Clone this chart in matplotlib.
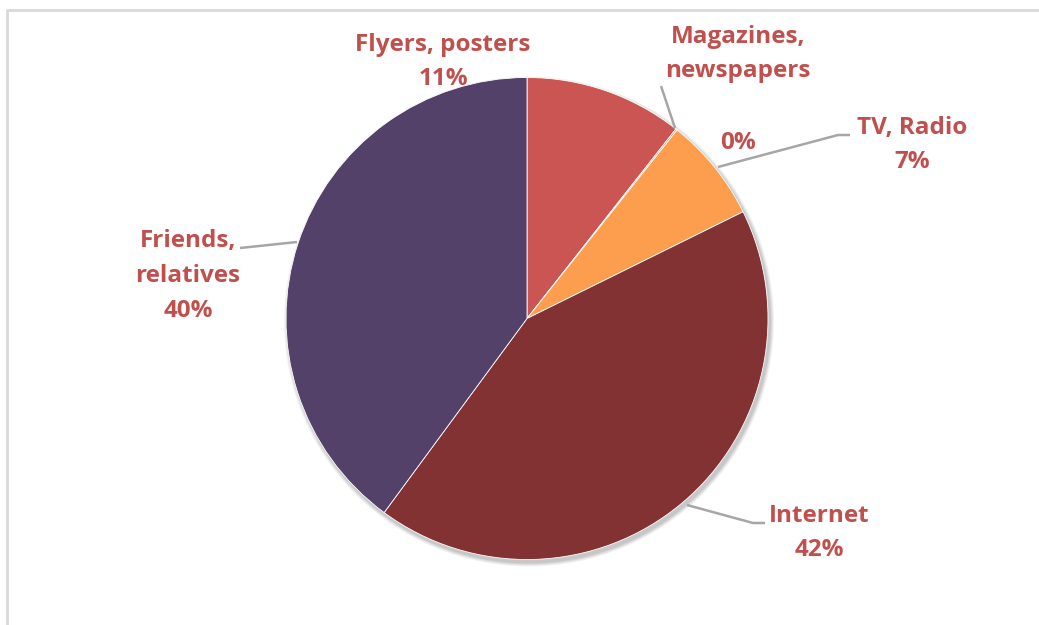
import matplotlib.pyplot as plt
from matplotlib.patches import Circle

H = 625

# data
sources = ['Flyers, posters', 'Magazines,\nnewspapers', 'TV, Radio', 'Internet', 'Friends,\nrelatives']
shares = [10.6, 0.1, 7.0, 42.4, 39.9]
pct_labels = ['11%', '0%', '7%', '42%', '40%']
colors = ['#CB5552', '#E07A4F', '#FD9E4E', '#823232', '#544169']

txt_color = '#C0504D'
line_color = '#A6A6A6'

fig = plt.figure(figsize=(10.39, 6.25), dpi=100)
ax = fig.add_axes([0, 0, 1, 1])

cx, cy, r = 527, H - 318.5, 241

# soft shadow
for i, a in enumerate([0.05, 0.05, 0.06, 0.07]):
    ax.add_patch(Circle((cx + 2, cy - 3), r + 4 - i, color='black', alpha=a, lw=0, zorder=1))

ax.pie(shares, colors=colors, startangle=90, counterclock=False,
       center=(cx, cy), radius=r, frame=True,
       wedgeprops=dict(linewidth=0.6, edgecolor='white', zorder=2))
ax.set_xlim(0, 1039)
ax.set_ylim(0, H)
ax.set_aspect('equal')
ax.axis('off')

font = dict(family=['Open Sans', 'DejaVu Sans'], fontweight='bold', fontsize=17.5,
            color=txt_color, ha='center', va='center', linespacing=1.6)

def t(x, y, s):
    ax.text(x, H - y, s, zorder=5, **font)

def leader(pts):
    ax.plot([p[0] for p in pts], [H - p[1] for p in pts], color=line_color, lw=1.8,
            solid_capstyle='butt', zorder=4)

t(443, 62, sources[0] + '\n' + pct_labels[0])
t(738, 54, sources[1])
t(738, 143, pct_labels[1])
t(912, 145, sources[2] + '\n' + pct_labels[2])
t(819, 533, sources[3] + '\n' + pct_labels[3])
t(188, 276, sources[4] + '\n' + pct_labels[4])

leader([(661, 86), (675, 128)])
leader([(718, 167), (838, 135), (850, 135)])
leader([(687, 505), (753, 523), (765, 523)])
leader([(240, 248), (297, 242)])

# chart border (top and left visible)
ax.plot([7, 7, 1039], [0, H - 10, H - 10], color='#D9D9D9', lw=2, zorder=0)

fig.savefig('out.png', dpi=100)
